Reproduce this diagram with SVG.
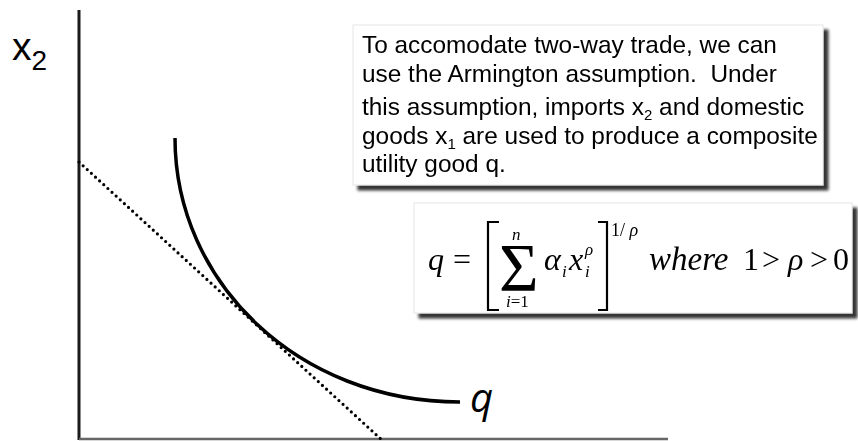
<svg xmlns="http://www.w3.org/2000/svg" width="858" height="441" viewBox="0 0 858 441">
<style>
.note{font-family:"Liberation Sans",Arial,sans-serif;font-size:24.4px;fill:#000}
.sub{font-size:15px}
.m{font-family:"Liberation Serif","Times New Roman",serif;fill:#000}
.it{font-style:italic}
.box{fill:#fff;stroke:#e6e6e6;stroke-width:1}
.br{fill:none;stroke:#000;stroke-width:2.2}
</style>
<defs>
<filter id="sh" x="-5%" y="-5%" width="115%" height="125%">
<feGaussianBlur in="SourceAlpha" stdDeviation="1.8" result="b"/>
<feOffset in="b" dx="5" dy="5" result="o"/>
<feComponentTransfer in="o" result="c"><feFuncA type="linear" slope="0.8"/></feComponentTransfer>
<feMerge><feMergeNode in="c"/><feMergeNode in="SourceGraphic"/></feMerge>
</filter>
</defs>
<g id="axes">
<line x1="79" y1="10" x2="79" y2="440" stroke="#1a1a1a" stroke-width="3"/>
<line x1="79" y1="439" x2="668" y2="439" stroke="#666" stroke-width="2.5"/>
<text x="12" y="60" font-family="Liberation Sans,Arial,sans-serif" font-size="39">x<tspan font-size="28" dy="10">2</tspan></text>
</g>
<g id="connectors">
<line x1="79" y1="162" x2="383" y2="441" stroke="#000" stroke-width="3.2" stroke-linecap="round" stroke-dasharray="0 5.6"/>
<path d="M175,138 C175,282 298,402 460,402" fill="none" stroke="#000" stroke-width="3.5"/>
<text x="470" y="412" font-family="Open Sans,Liberation Sans,sans-serif" font-style="italic" font-size="40">q</text>
</g>
<g id="note" filter="url(#sh)">
<rect class="box" x="353" y="25" width="470" height="160"/>
<text class="note" x="362" y="53">To accomodate two-way trade, we can</text>
<text class="note" x="362" y="82" xml:space="preserve">use the Armington assumption.  Under</text>
<text class="note" x="362" y="115" xml:space="preserve">this assumption, imports x<tspan class="sub" dy="5">2</tspan><tspan dy="-5"> and domestic</tspan></text>
<text class="note" x="362" y="144" xml:space="preserve">goods x<tspan class="sub" dy="5">1</tspan><tspan dy="-5"> are used to produce a composite</tspan></text>
<text class="note" x="362" y="172">utility good q.</text>
</g>
<g id="formula" filter="url(#sh)">
<rect class="box" x="414" y="203" width="438" height="110"/>
<text class="m it" x="428" y="270" font-size="32">q</text>
<text class="m" x="453" y="270" font-size="32">=</text>
<path class="br" d="M499,222 H488 V310 H499"/>
<text class="m" x="499" y="290" font-size="68">Σ</text>
<text class="m it" x="512" y="240" font-size="17">n</text>
<text class="m" x="506" y="307" font-size="17"><tspan font-style="italic">i</tspan>=1</text>
<text class="m it" x="544" y="270" font-size="32">α</text>
<text class="m it" x="562" y="277" font-size="17">i</text>
<text class="m it" x="569" y="270" font-size="32">x</text>
<text class="m it" x="585" y="255" font-size="17">ρ</text>
<text class="m it" x="585" y="277" font-size="17">i</text>
<path class="br" d="M598,222 H607 V310 H598"/>
<text class="m" x="611" y="236" font-size="18" xml:space="preserve">1/ <tspan font-style="italic">ρ</tspan></text>
<text class="m it" x="649" y="270" font-size="33">where</text>
<text class="m" x="743" y="270" font-size="32">1</text>
<text class="m" x="762" y="270" font-size="32">&gt;</text>
<text class="m it" x="788" y="270" font-size="32">ρ</text>
<text class="m" x="810" y="270" font-size="32">&gt;</text>
<text class="m" x="833" y="270" font-size="32">0</text>
</g>
</svg>
